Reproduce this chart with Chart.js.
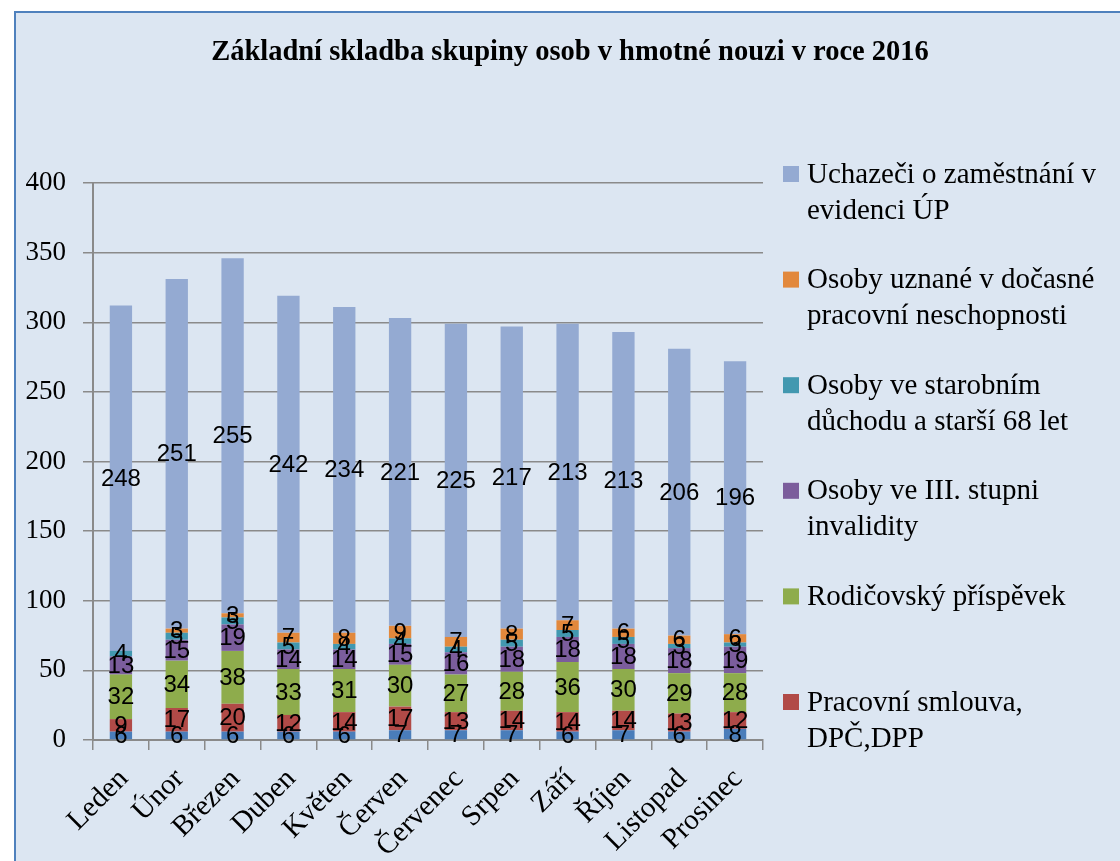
<!DOCTYPE html>
<html>
<head>
<meta charset="utf-8">
<script src="https://cdn.jsdelivr.net/npm/chart.js@4.4.1/dist/chart.umd.min.js"></script>
<style>
  html, body { margin: 0; padding: 0; background: #ffffff; }
  #frame { position: absolute; left: 14px; top: 11px; width: 1110px; height: 855px;
           background: #dce6f2; border: 2px solid #4f81bd; box-sizing: border-box; }
  #wrap { position: absolute; left: 0; top: 0; width: 1120px; height: 861px; }
</style>
</head>
<body>
<div id="frame"></div>
<div id="wrap"><canvas id="c" width="1120" height="861"></canvas></div>
<script>
const titleText = 'Základní skladba skupiny osob v hmotné nouzi v roce 2016';
const months = ['Leden','Únor','Březen','Duben','Květen','Červen','Červenec','Srpen','Září','Říjen','Listopad','Prosinec'];
const yTicks = [0, 50, 100, 150, 200, 250, 300, 350, 400];

const ostatni     = [6, 6, 6, 6, 6, 7, 7, 7, 6, 7, 6, 8];
const pracovni    = [9, 17, 20, 12, 14, 17, 13, 14, 14, 14, 13, 12];
const rodicovsky  = [32, 34, 38, 33, 31, 30, 27, 28, 36, 30, 29, 28];
const invalidita  = [13, 15, 19, 14, 14, 15, 16, 18, 18, 18, 18, 19];
const starobni    = [4, 5, 5, 5, 4, 4, 4, 5, 5, 5, 3, 3];
const neschopnost = [0, 3, 3, 7, 8, 9, 7, 8, 7, 6, 6, 6];
const uchazeci    = [248, 251, 255, 242, 234, 221, 225, 217, 213, 213, 206, 196];

const SERIF = '"Liberation Serif", "DejaVu Serif", serif';

const datasets = [
  { label: 'Ostatní', data: ostatni, backgroundColor: '#4a7dba', inLegend: false },
  { label: 'Pracovní smlouva, DPČ,DPP', data: pracovni, backgroundColor: '#b14a47', inLegend: true },
  { label: 'Rodičovský příspěvek', data: rodicovsky, backgroundColor: '#8eac4c', inLegend: true },
  { label: 'Osoby ve III. stupni invalidity', data: invalidita, backgroundColor: '#7b5d9c', inLegend: true },
  { label: 'Osoby ve starobním důchodu a starší 68 let', data: starobni, backgroundColor: '#4298b0', inLegend: true },
  { label: 'Osoby uznané v dočasné pracovní neschopnosti', data: neschopnost, backgroundColor: '#e2883c', inLegend: true },
  { label: 'Uchazeči o zaměstnání v evidenci ÚP', data: uchazeci, backgroundColor: '#94aad2', inLegend: true }
];

function wrapText(ctx, text, maxW) {
  const words = text.split(' ');
  const lines = [];
  let cur = '';
  for (const w of words) {
    const t = cur ? cur + ' ' + w : w;
    if (ctx.measureText(t).width > maxW && cur) { lines.push(cur); cur = w; }
    else cur = t;
  }
  if (cur) lines.push(cur);
  return lines;
}

const decorPlugin = {
  id: 'decor',
  afterDatasetsDraw(chart) {
    const ctx = chart.ctx;
    ctx.save();
    ctx.font = '24px "Liberation Sans", Arial, sans-serif';
    ctx.fillStyle = '#000';
    ctx.textAlign = 'center';
    ctx.textBaseline = 'middle';
    chart.data.datasets.forEach((ds, di) => {
      const meta = chart.getDatasetMeta(di);
      meta.data.forEach((el, i) => {
        const v = ds.data[i];
        if (!v) return;
        const y = (el.y + el.base) / 2;
        ctx.fillText(String(v), el.x, y + 1);
      });
    });
    ctx.restore();
  },
  afterDraw(chart) {
    const ctx = chart.ctx;
    ctx.save();
    ctx.font = 'bold 28.5px ' + SERIF;
    ctx.fillStyle = '#000';
    ctx.textAlign = 'center';
    ctx.textBaseline = 'alphabetic';
    ctx.fillText(titleText, 570, 60);
    ctx.font = '29px ' + SERIF;
    ctx.textAlign = 'left';
    ctx.textBaseline = 'middle';
    const items = chart.data.datasets.filter(d => d.inLegend).slice().reverse();
    let y = 174;
    items.forEach(ds => {
      ctx.fillStyle = ds.backgroundColor;
      ctx.fillRect(783, y - 8, 16, 16);
      ctx.fillStyle = '#000';
      const lines = wrapText(ctx, ds.label, 305);
      lines.forEach((ln, k) => ctx.fillText(ln, 807, y + 1 + k * 36));
      y += 105.6;
    });
    ctx.restore();
  }
};

new Chart(document.getElementById('c'), {
  type: 'bar',
  data: { labels: months, datasets: datasets },
  options: {
    responsive: false,
    animation: false,
    layout: { padding: { left: 0, right: 357, top: 183, bottom: 0 } },
    plugins: { legend: { display: false }, title: { display: false }, tooltip: { enabled: false } },
    datasets: { bar: { categoryPercentage: 1, barPercentage: 0.4 } },
    scales: {
      x: {
        stacked: true,
        afterFit(s) { s.height = 121; },
        grid: { offset: true, drawOnChartArea: false, drawTicks: true, tickLength: 10, color: '#8a8a8a', lineWidth: 1.5 },
        border: { display: true, color: '#8a8a8a', width: 2 },
        ticks: { color: '#000', font: { family: SERIF, size: 29 }, maxRotation: 45, minRotation: 45, padding: 12, labelOffset: 3, autoSkip: false }
      },
      y: {
        stacked: true,
        min: 0, max: 400,
        afterFit(s) { s.width = 93; },
        afterBuildTicks(s) { s.ticks = yTicks.map(v => ({ value: v })); },
        grid: { color: '#8a8a8a', lineWidth: 1.5, tickLength: 10 },
        border: { display: true, color: '#8a8a8a', width: 2 },
        ticks: { color: '#000', font: { family: SERIF, size: 27 }, padding: 17 }
      }
    }
  },
  plugins: [decorPlugin]
});
</script>
</body>
</html>
